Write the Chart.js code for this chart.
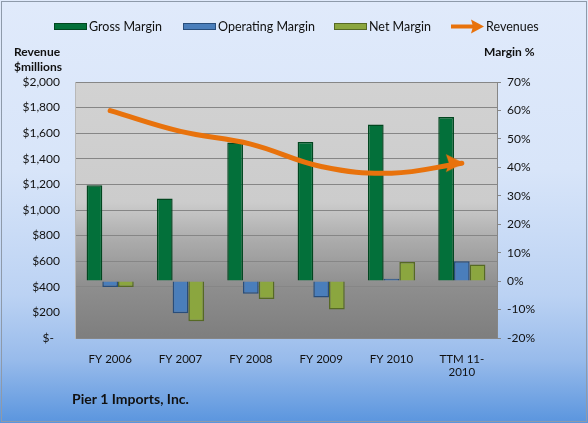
<!DOCTYPE html>
<html>
<head>
<meta charset="utf-8">
<script src="https://cdn.jsdelivr.net/npm/chart.js@4/dist/chart.umd.min.js"></script>
<style>
  html, body { margin: 0; padding: 0; background: #fff; }
  #wrap { width: 588px; height: 423px; }
</style>
</head>
<body>
<div id="wrap"><canvas id="chart" width="588" height="423"></canvas></div>
<script>
var categories = ['FY 2006', 'FY 2007', 'FY 2008', 'FY 2009', 'FY 2010', ['TTM 11-', '2010']];
var grossMargin = [33.7, 29.0, 48.7, 48.9, 55.1, 57.7];
var operatingMargin = [-2.1, -11.3, -4.4, -5.8, 0.8, 7.0];
var netMargin = [-2.1, -14.1, -6.3, -10.0, 6.7, 5.8];
var revenues = [1776, 1614, 1515, 1340, 1288, 1366];
var revenueTicks = [0, 200, 400, 600, 800, 1000, 1200, 1400, 1600, 1800, 2000];
var marginTicks = [-20, -10, 0, 10, 20, 30, 40, 50, 60, 70];

var FONT = 'Lato, "Open Sans", sans-serif';
var GRID = '#868686';
var ORANGE = '#E8720C';

var legendItems = [
  { label: 'Gross Margin', x: 54, fill: '#03703A', edge: '#01461F' },
  { label: 'Operating Margin', x: 183, fill: '#4A7EBB', edge: '#284D7B' },
  { label: 'Net Margin', x: 334, fill: '#8BA63F', edge: '#566924' },
  { label: 'Revenues', x: 451, arrow: true }
];

function money(value) {
  if (value === 0) return '$-  ';
  return '$' + value.toLocaleString('en-US');
}

// arrow head for the last revenue point, tip sits just past the point
function arrowHead() {
  var c = document.createElement('canvas');
  c.width = 56;
  c.height = 20;
  var g = c.getContext('2d');
  g.fillStyle = ORANGE;
  g.beginPath();
  g.moveTo(30, 10);
  g.lineTo(12, 1);
  g.lineTo(15, 10);
  g.lineTo(12, 19);
  g.closePath();
  g.fill();
  return c;
}

var decorations = {
  id: 'decorations',
  beforeDraw: function (chart) {
    var ctx = chart.ctx;
    var area = chart.chartArea;
    ctx.save();

    var bg = ctx.createLinearGradient(0, 0, 0, chart.height);
    bg.addColorStop(0, '#E0EAFB');
    bg.addColorStop(0.4, '#D8E5F9');
    bg.addColorStop(0.7, '#BBD2F3');
    bg.addColorStop(0.85, '#98BBEB');
    bg.addColorStop(1, '#5A95DE');
    ctx.fillStyle = bg;
    ctx.fillRect(0, 0, chart.width, chart.height);
    ctx.strokeStyle = '#8E9AAA';
    ctx.lineWidth = 1;
    ctx.strokeRect(1.5, 1.5, chart.width - 3, chart.height - 3);

    var plot = ctx.createLinearGradient(0, area.top, 0, area.bottom);
    plot.addColorStop(0, '#D2D2D2');
    plot.addColorStop(0.47, '#CCCCCC');
    plot.addColorStop(0.62, '#ABABAB');
    plot.addColorStop(0.8, '#8E8E8E');
    plot.addColorStop(1, '#7E7E7E');
    ctx.fillStyle = plot;
    ctx.fillRect(area.left, area.top, area.right - area.left, area.bottom - area.top);
    ctx.restore();
  },
  afterDraw: function (chart) {
    var ctx = chart.ctx;
    ctx.save();
    ctx.fillStyle = '#111';
    ctx.textBaseline = 'middle';
    ctx.textAlign = 'left';

    ctx.font = 'bold 12px ' + FONT;
    ctx.fillText('Revenue', 14, 52);
    ctx.fillText('$millions', 14, 67);
    ctx.fillText('Margin %', 484, 52);
    ctx.font = 'bold 14px ' + FONT;
    ctx.fillText('Pier 1 Imports, Inc.', 72, 399);

    ctx.font = '12.5px ' + FONT;
    var y = 26.5;
    legendItems.forEach(function (item) {
      if (item.arrow) {
        ctx.strokeStyle = ORANGE;
        ctx.lineWidth = 4;
        ctx.beginPath();
        ctx.moveTo(item.x, y);
        ctx.lineTo(item.x + 24, y);
        ctx.stroke();
        ctx.fillStyle = ORANGE;
        ctx.beginPath();
        ctx.moveTo(item.x + 33, y);
        ctx.lineTo(item.x + 20, y - 7);
        ctx.lineTo(item.x + 22, y);
        ctx.lineTo(item.x + 20, y + 7);
        ctx.closePath();
        ctx.fill();
      } else {
        ctx.fillStyle = item.fill;
        ctx.fillRect(item.x, y - 3.5, 33, 7);
        ctx.strokeStyle = item.edge;
        ctx.lineWidth = 1;
        ctx.strokeRect(item.x + 0.5, y - 3, 32, 6);
      }
      ctx.fillStyle = '#111';
      ctx.fillText(item.label, item.x + 35, y);
    });
    ctx.restore();
  }
};

function barSet(label, data, fill, edge) {
  return {
    type: 'bar',
    label: label,
    data: data,
    yAxisID: 'y2',
    order: 1,
    backgroundColor: fill,
    borderColor: edge,
    borderWidth: 1.5,
    categoryPercentage: 0.67,
    barPercentage: 1
  };
}

var head = arrowHead();

new Chart(document.getElementById('chart'), {
  data: {
    labels: categories,
    datasets: [{
      type: 'line',
      label: 'Revenues',
      data: revenues,
      yAxisID: 'y',
      order: 0,
      borderColor: ORANGE,
      backgroundColor: ORANGE,
      borderWidth: 5,
      borderCapStyle: 'round',
      tension: 0.4,
      pointStyle: revenues.map(function (v, i) { return i === revenues.length - 1 ? head : 'circle'; }),
      pointRadius: revenues.map(function (v, i) { return i === revenues.length - 1 ? 5 : 0; }),
      pointBorderWidth: 0,
      pointBackgroundColor: ORANGE
    },
      barSet('Gross Margin', grossMargin, '#03703A', '#01461F'),
      barSet('Operating Margin', operatingMargin, '#4A7EBB', '#284D7B'),
      barSet('Net Margin', netMargin, '#8BA63F', '#566924')
    ]
  },
  options: {
    responsive: false,
    animation: false,
    events: [],
    layout: { padding: { top: 82, left: 0, right: 0, bottom: 0 } },
    plugins: {
      legend: { display: false },
      tooltip: { enabled: false }
    },
    scales: {
      x: {
        offset: true,
        grid: { display: false },
        border: { display: true, color: GRID },
        ticks: {
          color: '#111',
          font: { family: FONT, size: 11.5 },
          padding: 6,
          maxRotation: 0
        },
        afterFit: function (scale) { scale.height = 85; }
      },
      y: {
        position: 'left',
        min: 0,
        max: 2000,
        afterBuildTicks: function (scale) {
          scale.ticks = revenueTicks.map(function (v) { return { value: v }; });
        },
        grid: { color: GRID, drawTicks: false },
        border: { display: true, color: '#B8B8B8' },
        ticks: {
          color: '#111',
          font: { family: FONT, size: 12 },
          padding: 15,
          callback: function (v) { return money(v); }
        },
        afterFit: function (scale) { scale.width = 75; }
      },
      y2: {
        position: 'right',
        min: -20,
        max: 70,
        afterBuildTicks: function (scale) {
          scale.ticks = marginTicks.map(function (v) { return { value: v }; });
        },
        grid: { drawOnChartArea: false, color: GRID, tickLength: 4 },
        border: { display: true, color: GRID },
        ticks: {
          color: '#111',
          font: { family: FONT, size: 12 },
          padding: 6,
          callback: function (v) { return v + '%'; }
        },
        afterFit: function (scale) { scale.width = 91; }
      }
    }
  },
  plugins: [decorations]
});
</script>
</body>
</html>
